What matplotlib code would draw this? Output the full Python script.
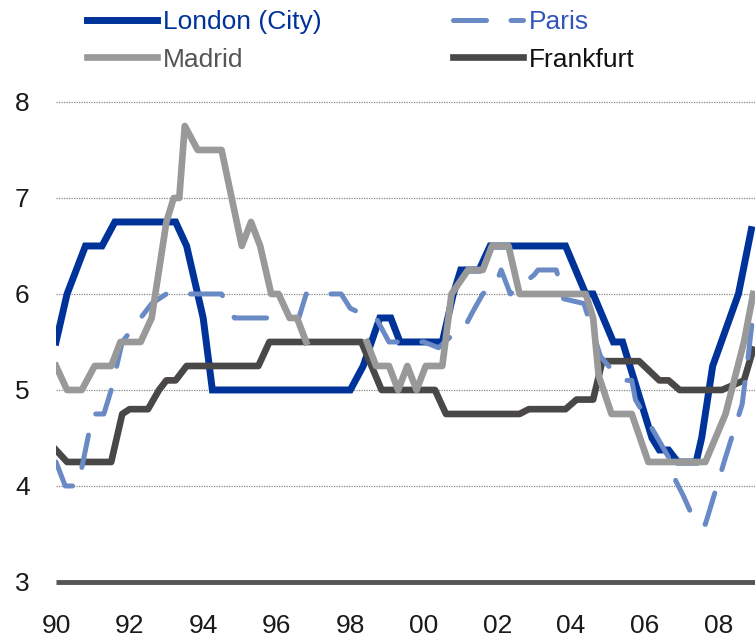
import numpy as np
import matplotlib
matplotlib.use("Agg")
import matplotlib.pyplot as plt

# Office rent / yield style series for four cities
# each series is a list of break points (decimal year, value)

london_t = [1990.0, 1990.3, 1990.8, 1991.25, 1991.6, 1993.25, 1993.55, 1994.0, 1994.25,
            1998.0, 1998.35, 1998.8, 1999.1, 1999.35, 2000.5, 2000.8, 2001.0, 2001.5,
            2001.8, 2003.85, 2004.4, 2004.6, 2005.15, 2005.4, 2006.2, 2006.4, 2006.65,
            2006.9, 2007.4, 2007.55, 2007.85, 2008.55, 2008.9]
london_v = [5.5, 6.0, 6.5, 6.5, 6.75, 6.75, 6.5, 5.75, 5.0,
            5.0, 5.25, 5.75, 5.75, 5.5, 5.5, 6.0, 6.25, 6.25,
            6.5, 6.5, 6.0, 6.0, 5.5, 5.5, 4.5, 4.375, 4.375,
            4.25, 4.25, 4.5, 5.25, 6.0, 6.67]

paris_t = [1990.0, 1990.25, 1990.6, 1991.0, 1991.3, 1991.5, 1991.8, 1992.6, 1993.0,
           1994.5, 1994.85, 1996.6, 1996.8, 1997.75, 1998.0, 1998.4, 1998.7, 1999.05,
           2000.0, 2000.4, 2000.85, 2001.1, 2001.35, 2001.6, 2001.95, 2002.1, 2002.35,
           2003.0, 2003.1, 2003.6, 2003.8, 2004.35, 2004.8, 2005.35, 2005.65, 2005.75,
           2006.65, 2006.85, 2007.05, 2007.4, 2007.65, 2008.2, 2008.65, 2008.8, 2008.95]
paris_v = [4.25, 4.0, 4.0, 4.75, 4.75, 5.0, 5.5, 5.9, 6.0,
           6.0, 5.75, 5.75, 6.0, 6.0, 5.85, 5.78, 5.75, 5.5,
           5.5, 5.44, 5.6, 5.65, 5.83, 6.0, 6.1, 6.25, 6.0,
           6.2, 6.25, 6.25, 5.95, 5.9, 5.35, 5.1, 5.1, 4.9,
           4.3, 4.05, 3.9, 3.6, 3.6, 4.3, 4.85, 5.3, 5.8]

# Madrid has no values for 1997-98 (the line disappears behind Frankfurt)
madrid_t = [1990.0, 1990.3, 1990.7, 1991.05, 1991.5, 1991.75, 1992.3, 1992.6, 1993.0,
            1993.2, 1993.35, 1993.5, 1993.85, 1994.5, 1995.05, 1995.3, 1995.55, 1995.85,
            1996.05, 1996.35, 1996.55, 1996.8, 1997.5, 1998.45, 1998.7, 1999.05, 1999.3,
            1999.55, 1999.8, 2000.05, 2000.5, 2000.75, 2001.2, 2001.6, 2001.85, 2002.3,
            2002.6, 2004.4, 2004.6, 2004.75, 2005.1, 2005.65, 2006.1, 2007.65, 2008.2,
            2008.7, 2008.95]
madrid_v = [5.25, 5.0, 5.0, 5.25, 5.25, 5.5, 5.5, 5.75, 6.75,
            7.0, 7.0, 7.75, 7.5, 7.5, 6.5, 6.75, 6.5, 6.0,
            6.0, 5.75, 5.75, 5.5, np.nan, 5.5, 5.25, 5.25, 5.0,
            5.25, 5.0, 5.25, 5.25, 6.0, 6.25, 6.25, 6.5, 6.5,
            6.0, 6.0, 5.75, 5.15, 4.75, 4.75, 4.25, 4.25, 4.75,
            5.5, 6.0]

frankfurt_t = [1990.0, 1990.3, 1991.5, 1991.8, 1992.0, 1992.5, 1992.8, 1993.0, 1993.25,
               1993.55, 1995.5, 1995.8, 1998.3, 1998.85, 2000.3, 2000.6, 2002.6, 2002.85,
               2003.85, 2004.15, 2004.6, 2004.85, 2005.85, 2006.4, 2006.65, 2006.95,
               2008.1, 2008.7, 2008.95]
frankfurt_v = [4.375, 4.25, 4.25, 4.75, 4.8, 4.8, 5.0, 5.1, 5.1,
               5.25, 5.25, 5.5, 5.5, 5.0, 5.0, 4.75, 4.75, 4.8,
               4.8, 4.9, 4.9, 5.3, 5.3, 5.1, 5.1, 5.0,
               5.0, 5.1, 5.42]

year_ticks = [1990, 1992, 1994, 1996, 1998, 2000, 2002, 2004, 2006, 2008]
year_labels = ["90", "92", "94", "96", "98", "00", "02", "04", "06", "08"]
value_ticks = [3, 4, 5, 6, 7, 8]

plt.rcParams["font.family"] = ["Liberation Sans", "DejaVu Sans"]

fig = plt.figure(figsize=(7.55, 6.38), dpi=100)
ax = fig.add_axes([0.0742, 0.0878, 0.9258, 0.79])

# draw order: London at the bottom, Madrid on top
l_lon, = ax.plot(london_t, london_v, color="#003399", lw=5, solid_joinstyle="miter",
                 label="London (City)", zorder=2)
l_fra, = ax.plot(frankfurt_t, frankfurt_v, color="#4a4747", lw=4.8,
                 label="Frankfurt", zorder=3)
l_par, = ax.plot(paris_t, paris_v, color="#6a8ac6", lw=3.6, dashes=(6.6, 4.9),
                 dash_capstyle="round", label="Paris", zorder=4)
l_mad, = ax.plot(madrid_t, madrid_v, color="#999999", lw=4.8,
                 label="Madrid", zorder=5)

ax.set_xlim(1990, 2009.0)
ax.set_ylim(3, 8.25)
ax.set_xticks(year_ticks)
ax.set_xticklabels(year_labels)
ax.set_yticks(value_ticks)
ax.tick_params(axis="both", length=0, labelsize=19, colors="#1a1a1a")
ax.tick_params(axis="y", pad=19)
ax.tick_params(axis="x", pad=23)

# dotted grid lines, the 3 line is the solid axis
for v in value_ticks[1:]:
    ax.axhline(v, color="#888888", lw=0.9, ls=(0, (1, 1)), zorder=1)

for side in ["top", "right", "left"]:
    ax.spines[side].set_visible(False)
ax.spines["bottom"].set_color("#555555")
ax.spines["bottom"].set_linewidth(3.5)
ax.spines["bottom"].set_capstyle("butt")

# legend in two columns across the top
leg = fig.legend([l_lon, l_mad, l_par, l_fra],
                 ["London (City)", "Madrid", "Paris", "Frankfurt"],
                 ncol=2, loc="upper left", bbox_to_anchor=(0.108, 0.992),
                 frameon=False, fontsize=19, handlelength=2.65, handletextpad=0.22,
                 columnspacing=5.0, labelspacing=0.5, borderpad=0.2, borderaxespad=0)
text_colors = ["#003399", "#555555", "#3355bb", "#111111"]
for txt, c in zip(leg.get_texts(), text_colors):
    txt.set_color(c)

fig.savefig("out.png", dpi=100)
plt.close()
